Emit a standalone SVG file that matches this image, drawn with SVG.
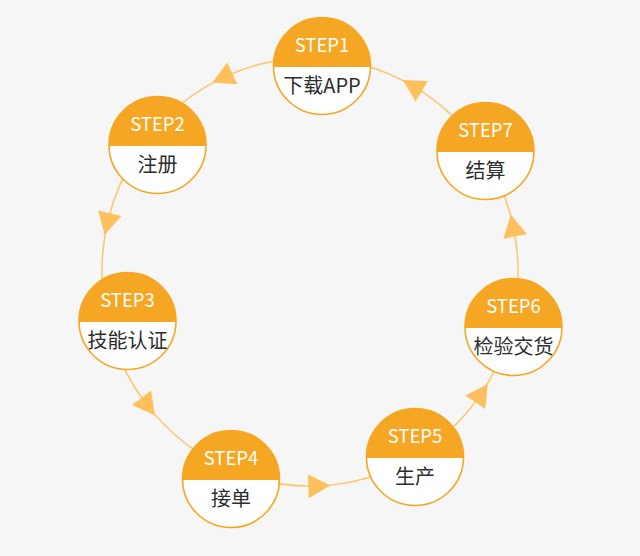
<svg xmlns="http://www.w3.org/2000/svg" xmlns:xlink="http://www.w3.org/1999/xlink" width="640" height="556" viewBox="0 0 640 556">
  <style>
    .conn { fill: none; stroke: #fcc56c; stroke-width: 1.5; marker-mid: url(#arrow); }
    .step { font-family: "Noto Sans CJK SC", "Liberation Sans", sans-serif; font-size: 18.5px; fill: #ffffff; text-anchor: middle; }
    .label { font-family: "Noto Sans CJK SC", "Liberation Sans", sans-serif; font-size: 20px; fill: #2e2e2e; text-anchor: middle; }
  </style>
  <defs>
    <marker id="arrow" markerUnits="userSpaceOnUse" markerWidth="32" markerHeight="32" viewBox="-16 -16 32 32" refX="0" refY="0" orient="auto">
      <path d="M13,0 L-9,-12 L-9,12 Z" fill="#fec05c"/>
    </marker>
    <g id="badge">
      <circle r="48.5" fill="#ffffff"/>
      <path d="M-48.49,1 A48.5,48.5 0 1 1 48.49,1 Z" fill="#f5a623"/>
      <circle r="48.5" fill="none" stroke="#f5a623" stroke-width="1.6"/>
    </g>
  </defs>
  <rect width="640" height="556" fill="#f6f6f6"/>
  <g id="connectors">
    <path class="conn" d="M310,58 A208,214 0 0 0 224.1,77.1 A208,214 0 0 0 147.7,138.2"/>
    <path class="conn" d="M147.7,138.2 A208,214 0 0 0 107.7,222 A208,214 0 0 0 108.2,323.8"/>
    <path class="conn" d="M108.2,323.8 A208,214 0 0 0 147,404.9 A208,214 0 0 0 232.1,470.4"/>
    <path class="conn" d="M232.1,470.4 A208,214 0 0 0 317.3,485.9 A208,214 0 0 0 414,457.3"/>
    <path class="conn" d="M414,457.3 A208,214 0 0 0 480.4,394.7 A208,214 0 0 0 511.8,323.8"/>
    <path class="conn" d="M511.8,323.8 A208,214 0 0 0 513.4,227.5 A208,214 0 0 0 480.4,149.2"/>
    <path class="conn" d="M480.4,149.2 A208,214 0 0 0 414,86.7 A208,214 0 0 0 310,58"/>
  </g>
  <g id="step1" transform="translate(322,66)">
    <use href="#badge" xlink:href="#badge"/>
    <text class="step" x="0" y="-14">STEP1</text>
    <text class="label" x="0" y="26.5">下载APP</text>
  </g>
  <g id="step2" transform="translate(157.5,145)">
    <use href="#badge" xlink:href="#badge"/>
    <text class="step" x="0" y="-14">STEP2</text>
    <text class="label" x="0" y="26.5">注册</text>
  </g>
  <g id="step3" transform="translate(127.5,321)">
    <use href="#badge" xlink:href="#badge"/>
    <text class="step" x="0" y="-14">STEP3</text>
    <text class="label" x="0" y="26.5">技能认证</text>
  </g>
  <g id="step4" transform="translate(231,479)">
    <use href="#badge" xlink:href="#badge"/>
    <text class="step" x="0" y="-14">STEP4</text>
    <text class="label" x="0" y="26.5">接单</text>
  </g>
  <g id="step5" transform="translate(415,457)">
    <use href="#badge" xlink:href="#badge"/>
    <text class="step" x="0" y="-14">STEP5</text>
    <text class="label" x="0" y="26.5">生产</text>
  </g>
  <g id="step6" transform="translate(513.5,327)">
    <use href="#badge" xlink:href="#badge"/>
    <text class="step" x="0" y="-14">STEP6</text>
    <text class="label" x="0" y="26.5">检验交货</text>
  </g>
  <g id="step7" transform="translate(485.5,151)">
    <use href="#badge" xlink:href="#badge"/>
    <text class="step" x="0" y="-14">STEP7</text>
    <text class="label" x="0" y="26.5">结算</text>
  </g>
</svg>
